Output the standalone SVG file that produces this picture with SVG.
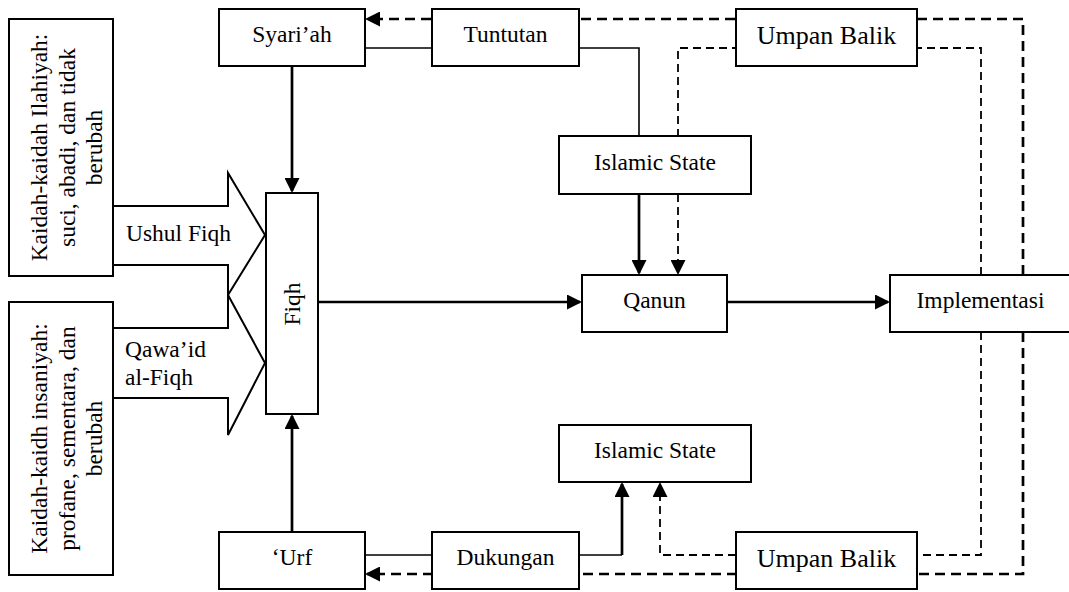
<svg xmlns="http://www.w3.org/2000/svg" width="1069" height="592" viewBox="0 0 1069 592">
  <style>
    .box { fill: #fff; stroke: #000; stroke-width: 2; }
    .t { font-family: 'Times New Roman', 'Liberation Serif', 'DejaVu Serif', serif; font-size: 23.5px; fill: #000; }
    .c { text-anchor: middle; }
    .big { font-size: 26px; }
    .solid { fill: none; stroke: #000; stroke-width: 2.7; }
    .thin { fill: none; stroke: #000; stroke-width: 1.6; }
    .dash { fill: none; stroke: #000; stroke-width: 2.7; stroke-dasharray: 10 6; }
    .tdash { fill: none; stroke: #000; stroke-width: 1.8; stroke-dasharray: 8 5; }
  </style>
  <defs>
    <marker id="arr" markerUnits="userSpaceOnUse" markerWidth="15" markerHeight="15" refX="13" refY="7.5" orient="auto">
      <path d="M0,0 L15,7.5 L0,15 Z" fill="#000"/>
    </marker>
  </defs>

  <rect width="1069" height="592" fill="#fff"/>

  <!-- connectors -->
  <g id="connectors">
    <!-- feedback loops (dashed) -->
    <path class="dash" d="M1023,275 V19 H367" marker-end="url(#arr)"/>
    <path class="dash" d="M1023,332 V574 H367" marker-end="url(#arr)"/>
    <path class="tdash" d="M981,275 V48 H678 V273" marker-end="url(#arr)"/>
    <path class="tdash" d="M981,332 V555 H660 V484" marker-end="url(#arr)"/>
    <!-- demand and support links -->
    <path class="thin" d="M365,48 H432"/>
    <path class="thin" d="M579,48 H639 V136"/>
    <path class="solid" d="M639,194 V273" marker-end="url(#arr)"/>
    <path class="thin" d="M365,555 H432"/>
    <path class="thin" d="M579,555 H622"/>
    <path class="solid" d="M622,555 V484" marker-end="url(#arr)"/>
    <!-- main flow -->
    <path class="solid" d="M292,66 V191" marker-end="url(#arr)"/>
    <path class="solid" d="M292,532 V416" marker-end="url(#arr)"/>
    <path class="solid" d="M318,302 H580" marker-end="url(#arr)"/>
    <path class="solid" d="M727,302 H888" marker-end="url(#arr)"/>
  </g>

  <!-- block arrows into Fiqh -->
  <g id="ushul-fiqh">
    <polygon class="box" points="113,206 228,206 228,173 265,235 228,295 228,265 113,265"/>
    <text class="t" x="126" y="241">Ushul Fiqh</text>
  </g>
  <g id="qawaid-fiqh">
    <polygon class="box" points="113,328 228,328 228,295 265,363 228,435 228,398 113,398"/>
    <text class="t" x="125" y="357">Qawa’id</text>
    <text class="t" x="125" y="385">al-Fiqh</text>
  </g>

  <g id="kaidah-ilahiyah">
    <rect class="box" x="9" y="19" width="104" height="257"/>
    <text class="t c" transform="translate(47,147.5) rotate(-90)">Kaidah-kaidah Ilahiyah:</text>
    <text class="t c" transform="translate(75,147.5) rotate(-90)">suci, abadi, dan tidak</text>
    <text class="t c" transform="translate(102,147.5) rotate(-90)">berubah</text>
  </g>
  <g id="kaidah-insaniyah">
    <rect class="box" x="9" y="302" width="104" height="273"/>
    <text class="t c" transform="translate(47,438.5) rotate(-90)">Kaidah-kaidh insaniyah:</text>
    <text class="t c" transform="translate(75,438.5) rotate(-90)">profane, sementara, dan</text>
    <text class="t c" transform="translate(102,438.5) rotate(-90)">berubah</text>
  </g>

  <g id="fiqh">
    <rect class="box" x="266" y="193" width="52" height="221"/>
    <text class="t c" transform="translate(300,304) rotate(-90)">Fiqh</text>
  </g>

  <g id="syariah">
    <rect class="box" x="219" y="9" width="146" height="57"/>
    <text class="t c" x="292" y="42">Syari’ah</text>
  </g>
  <g id="tuntutan">
    <rect class="box" x="432" y="9" width="147" height="57"/>
    <text class="t c" x="505.5" y="42">Tuntutan</text>
  </g>
  <g id="umpan-balik-atas">
    <rect class="box" x="736" y="9" width="181" height="57"/>
    <text class="t c big" x="826.5" y="44">Umpan Balik</text>
  </g>
  <g id="islamic-state-atas">
    <rect class="box" x="559" y="136" width="192" height="58"/>
    <text class="t c" x="655" y="170">Islamic State</text>
  </g>
  <g id="qanun">
    <rect class="box" x="582" y="275" width="145" height="57"/>
    <text class="t c" x="654.5" y="308">Qanun</text>
  </g>
  <g id="implementasi">
    <rect class="box" x="890" y="275" width="181" height="57"/>
    <text class="t c" x="980.5" y="308">Implementasi</text>
  </g>
  <g id="islamic-state-bawah">
    <rect class="box" x="559" y="425" width="192" height="57"/>
    <text class="t c" x="655" y="458">Islamic State</text>
  </g>
  <g id="urf">
    <rect class="box" x="219" y="532" width="146" height="57"/>
    <text class="t c" x="292" y="565">‘Urf</text>
  </g>
  <g id="dukungan">
    <rect class="box" x="432" y="532" width="147" height="57"/>
    <text class="t c" x="505.5" y="565">Dukungan</text>
  </g>
  <g id="umpan-balik-bawah">
    <rect class="box" x="736" y="532" width="181" height="57"/>
    <text class="t c big" x="826.5" y="567">Umpan Balik</text>
  </g>
</svg>
